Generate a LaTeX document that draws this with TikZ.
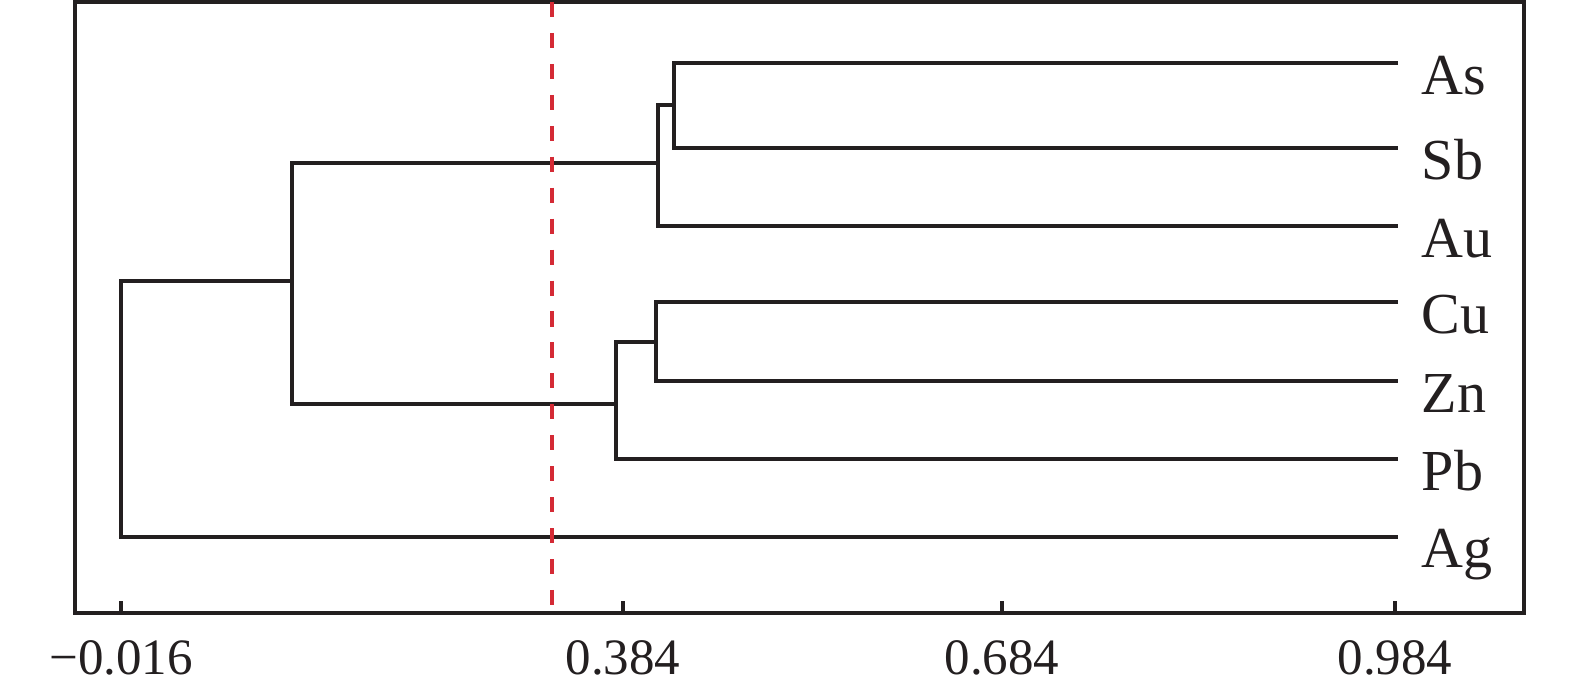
\documentclass[tikz,border=0pt]{standalone}
\usepackage{fontspec}
\setmainfont{Liberation Serif}
\usetikzlibrary{positioning}
\definecolor{cink}{HTML}{231F20}
\definecolor{cred}{HTML}{D42A35}
\tikzset{
  every picture/.style={line width=1pt},
  frame/.style={draw=cink, line width=1.25pt},
  branch/.style={draw=cink, line width=1.1pt},
  cutline/.style={draw=cred, line width=1.1pt, dash pattern=on 4.3pt off 4.5pt},
  leaf/.style={font=\fontsize{16.5}{19}\selectfont, text=cink, anchor=base west, inner sep=0pt},
  ticklabel/.style={font=\fontsize{14.5}{17}\selectfont, text=cink, anchor=base, inner sep=0pt},
}

\begin{document}
\begin{tikzpicture}[x=0.01cm, y=-0.01cm]
  \useasboundingbox (0,0) rectangle (1575,692);
  % axes box and ticks
  \draw[frame] (75,2) rectangle (1524,613);
  \foreach \x/\t in {121/{−0.016}, 623/{0.384}, 1002/{0.684}, 1395/{0.984}} {
    \draw[frame] (\x,613) -- (\x,601);
    \node[ticklabel] (tick\x) at (\x,675) {\t};
  }
  % leaf ends
  \coordinate (As) at (1398,63);
  \coordinate (Sb) at (1398,148);
  \coordinate (Au) at (1398,226);
  \coordinate (Cu) at (1398,302);
  \coordinate (Zn) at (1398,381);
  \coordinate (Pb) at (1398,459);
  \coordinate (Ag) at (1398,537);
  % merge points
  \coordinate (asb) at (674,105);
  \coordinate (asbau) at (658,163);
  \coordinate (czn) at (656,342);
  \coordinate (cznpb) at (616,404);
  \coordinate (mid) at (292,281);
  \coordinate (root) at (121,537);
  \draw[branch] (As) -| (asb) |- (Sb);
  \draw[branch] (asb) -| (asbau) |- (Au);
  \draw[branch] (Cu) -| (czn) |- (Zn);
  \draw[branch] (czn) -| (cznpb) |- (Pb);
  \draw[branch] (asbau) -| (mid) |- (cznpb);
  \draw[branch] (mid) -| (root) -- (Ag);
  % cut level
  \coordinate (cuttop) at (552,2);
  \coordinate (cutbot) at (552,613);
  \draw[cutline] (cuttop) -- (cutbot);
  % element names
  \node[leaf] (lAs) at (1420,95) {As};
  \node[leaf] (lSb) at (1420,180) {Sb};
  \node[leaf] (lAu) at (1420,258) {Au};
  \node[leaf] (lCu) at (1420,334) {Cu};
  \node[leaf] (lZn) at (1420,413) {Zn};
  \node[leaf] (lPb) at (1420,491) {Pb};
  \node[leaf] (lAg) at (1420,568) {Ag};
\end{tikzpicture}
\end{document}
